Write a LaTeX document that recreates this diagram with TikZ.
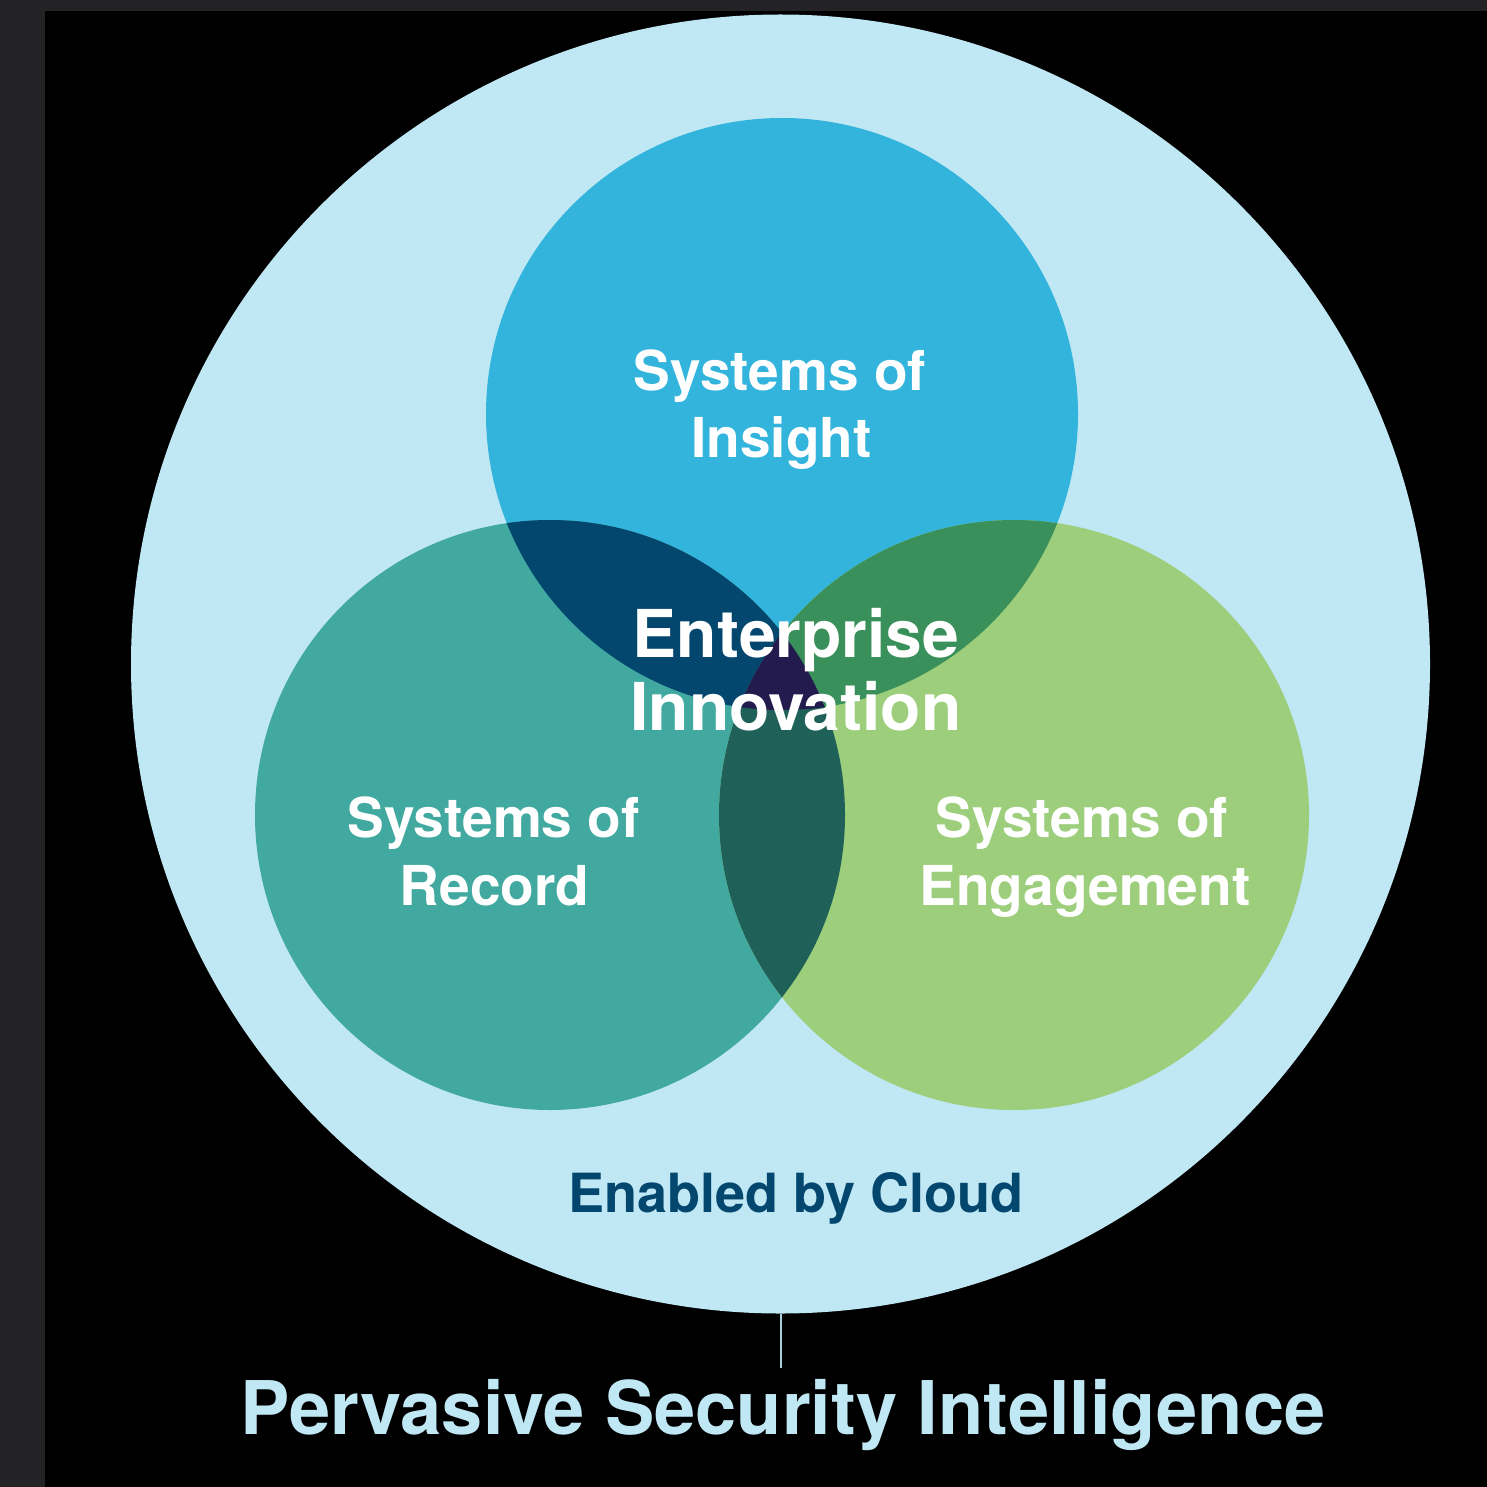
\documentclass[tikz,border=0pt]{standalone}
\usepackage{fontspec}
\setmainfont{TeX Gyre Heros}
\definecolor{graybd}{HTML}{232325}
\definecolor{bigc}{HTML}{C0E7F4}
\definecolor{topc}{HTML}{33B4DC}
\definecolor{leftc}{HTML}{41A9A0}
\definecolor{rightc}{HTML}{9CCE7C}
\definecolor{tlc}{HTML}{03476E}
\definecolor{trc}{HTML}{3A905A}
\definecolor{lrc}{HTML}{1F6059}
\definecolor{tric}{HTML}{231A4D}
\definecolor{cloudtxt}{HTML}{03476F}
\definecolor{tickc}{HTML}{A3D0DD}
\begin{document}
\begin{tikzpicture}[x=1pt,y=-1pt,
  disc/.style={circle,inner sep=0pt,minimum size=#1},
  lab/.style={anchor=base,text=white,font=\bfseries\fontsize{55}{60}\selectfont,inner sep=0pt},
  bigl/.style={anchor=base,text=white,font=\bfseries\fontsize{66}{70}\selectfont,inner sep=0pt}]
\useasboundingbox (0,0) rectangle (1487,1487);
\fill[black] (0,0) rectangle (1487,1487);
\fill[graybd] (0,0) rectangle (1487,11);
\fill[graybd] (0,0) rectangle (45,1487);
% outer circle
\node[disc=1299pt,fill=bigc] (cloud) at (780.5,664) {};
% three circles
\node[disc=592pt,fill=topc] (insight) at (782,414) {};
\node[disc=590pt,fill=leftc] (record) at (550,815) {};
\node[disc=590pt,fill=rightc] (engage) at (1014,815) {};
% overlaps
\begin{scope}
  \clip (782,414) circle (296pt);
  \fill[tlc] (550,815) circle (295pt);
\end{scope}
\begin{scope}
  \clip (782,414) circle (296pt);
  \fill[trc] (1014,815) circle (295pt);
\end{scope}
\begin{scope}
  \clip (550,815) circle (295pt);
  \fill[lrc] (1014,815) circle (295pt);
\end{scope}
\begin{scope}
  \clip (782,414) circle (296pt);
  \clip (550,815) circle (295pt);
  \fill[tric] (1014,815) circle (295pt);
\end{scope}
% tick line
\coordinate (tick) at (780.5,1368);
\draw[tickc,line width=2pt] (cloud.south) -- (tick);
% labels
\node[lab] (ins1) at (780,390) {Systems of};
\node[lab] (ins2) at (781.5,457) {Insight};
\node[lab] (rec1) at (493.5,837) {Systems of};
\node[lab] (rec2) at (494.5,905) {Record};
\node[lab] (eng1) at (1082,837) {Systems of};
\node[lab] (eng2) at (1085,905) {Engagement};
\node[bigl] (ent1) at (796,657) {Enterprise};
\node[bigl] (ent2) at (796,730) {Innovation};
\node[anchor=base,text=cloudtxt,font=\bfseries\fontsize{54}{60}\selectfont,inner sep=0pt] (cloudlab) at (796,1212) {Enabled by Cloud};
\node[anchor=base,text=bigc,font=\bfseries\fontsize{74}{80}\selectfont,inner sep=0pt] (psi) at (783,1434) {Pervasive Security Intelligence};
\end{tikzpicture}
\end{document}
